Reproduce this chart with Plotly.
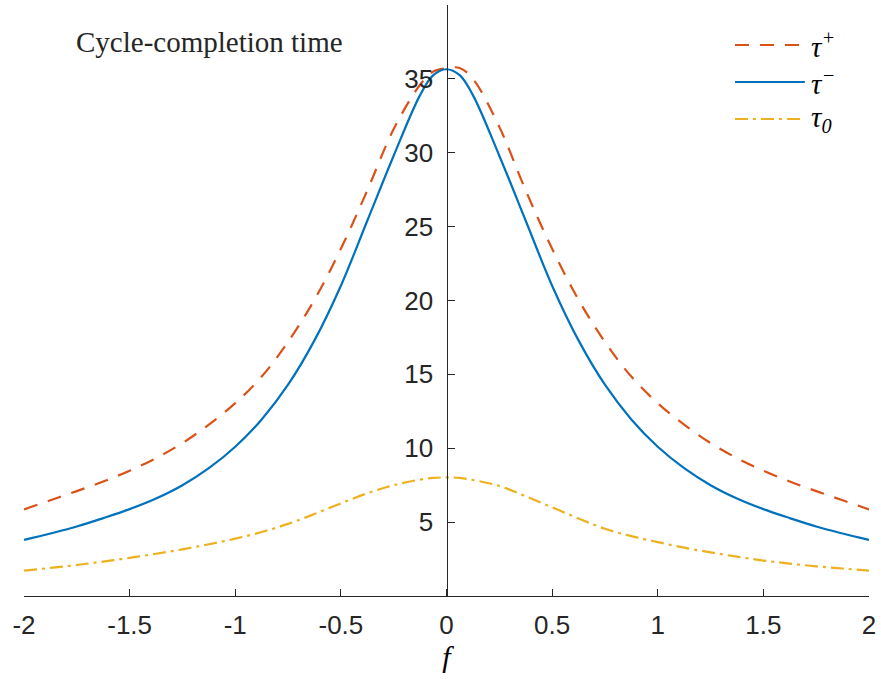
import plotly.graph_objects as go

f_vals = [-2.0, -1.875, -1.75, -1.625, -1.5, -1.375, -1.25, -1.125, -1.0, -0.875, -0.75, -0.625,
          -0.5, -0.375, -0.25, -0.125, -0.0625, 0.0, 0.0625, 0.125, 0.25, 0.375, 0.5, 0.625, 0.75, 0.875,
          1.0, 1.125, 1.25, 1.375, 1.5, 1.625, 1.75, 1.875, 2.0]

tau_plus = [5.86, 6.48, 7.1, 7.75, 8.48, 9.33, 10.35, 11.6, 13.05, 14.85, 17.2, 20.05,
            23.5, 27.45, 31.6, 34.6, 35.5, 35.72, 35.74, 35.0, 31.75, 27.45, 23.5, 20.05, 17.2, 14.85,
            13.05, 11.6, 10.35, 9.33, 8.48, 7.75, 7.1, 6.48, 5.86]

tau_minus = [3.8, 4.23, 4.7, 5.27, 5.88, 6.6, 7.5, 8.65, 10.1, 11.95, 14.3, 17.3,
             21.0, 25.4, 29.8, 33.9, 35.25, 35.65, 35.25, 33.9, 29.8, 25.4, 21.0, 17.3, 14.3, 11.95,
             10.1, 8.65, 7.5, 6.6, 5.88, 5.27, 4.7, 4.23, 3.8]

tau_zero = [1.72, 1.9, 2.1, 2.33, 2.58, 2.86, 3.16, 3.5, 3.88, 4.33, 4.88, 5.55,
            6.27, 6.95, 7.5, 7.88, 7.99, 8.03, 7.99, 7.85, 7.45, 6.75, 6.0, 5.25, 4.55, 4.05,
            3.65, 3.27, 2.95, 2.66, 2.4, 2.19, 2.01, 1.86, 1.72]

x_ticks = [-2, -1.5, -1, -0.5, 0, 0.5, 1, 1.5, 2]
x_tick_text = ["-2", "-1.5", "-1", "-0.5", "0", "0.5", "1", "1.5", "2"]
y_ticks = [5, 10, 15, 20, 25, 30, 35]
y_tick_text = ["5", "10", "15", "20", "25", "30", "35"]

series_names = ["τ<sup>+</sup>", "τ<sup>−</sup>", "τ<sub>0</sub>"]
series_colors = ["#D95319", "#0072BD", "#EDB120"]
series_dash = ["14px,11px", "solid", "13px,5px,3px,5px"]
series_data = [tau_plus, tau_minus, tau_zero]

AX = "#262626"
fig = go.Figure()
for name, col, dash, ys in zip(series_names, series_colors, series_dash, series_data):
    fig.add_trace(go.Scatter(x=f_vals, y=ys, mode="lines", name=name,
                             line=dict(color=col, width=2.2, dash=dash, shape="spline", smoothing=1.0),
                             showlegend=False))

# custom MATLAB-like legend (long line samples)
leg_y = [0.9323, 0.8697, 0.8071]
for name, col, dash, yy in zip(series_names, series_colors, series_dash, leg_y):
    fig.add_shape(type="line", xref="paper", yref="paper", x0=0.8414, x1=0.9241, y0=yy, y1=yy,
                  line=dict(color=col, width=2.2, dash=dash))
    fig.add_annotation(xref="paper", yref="paper", x=0.9290, y=yy, text="<i>" + name + "</i>",
                       showarrow=False, xanchor="left", yanchor="middle",
                       font=dict(family="Liberation Serif", size=29, color="#000000"))

fig.add_annotation(xref="paper", yref="paper", x=(74 - 24) / 847, y=(596 - 42) / 591,
                   text="Cycle-completion time", showarrow=False, xanchor="left", yanchor="middle",
                   font=dict(family="Liberation Serif", size=29, color="#262626"))

fig.update_layout(
    width=881, height=679,
    margin=dict(l=24, r=10, t=5, b=83),
    paper_bgcolor="white", plot_bgcolor="white",
    font=dict(family="Liberation Sans", size=26, color=AX),
    xaxis=dict(range=[-2, 2], tickvals=x_ticks, ticktext=x_tick_text, ticks="inside", ticklen=7,
               tickcolor=AX, tickwidth=1.2, showline=True, linecolor=AX, linewidth=1.3,
               showgrid=False, zeroline=False, ticklabelstandoff=6,
               title=dict(text="<i>f</i>", font=dict(family="Liberation Serif", size=30, color="#000000"),
                          standoff=4)),
    yaxis=dict(range=[0, 40], tickvals=y_ticks, ticktext=y_tick_text, ticks="inside", ticklen=7,
               tickcolor=AX, tickwidth=1.2, showline=True, linecolor=AX, linewidth=1.3,
               showgrid=False, zeroline=False, anchor="free", position=0.5, ticklabelstandoff=8),
)

fig.write_html("out.html")
